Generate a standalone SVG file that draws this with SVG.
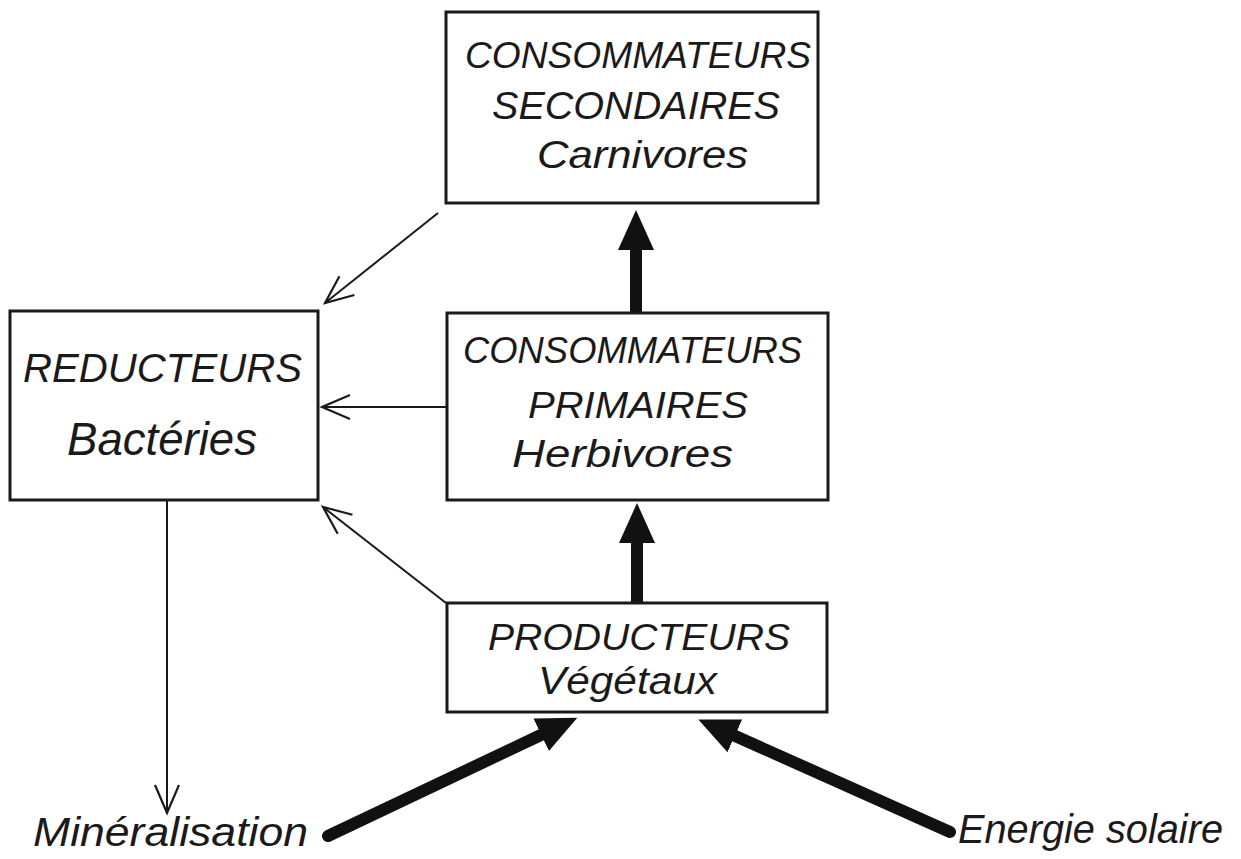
<svg xmlns="http://www.w3.org/2000/svg" width="1241" height="859" viewBox="0 0 1241 859">
<style>
.box{fill:#fff;stroke:#1a1a1a;stroke-width:3}
.t{font-family:"Liberation Sans",Arial,sans-serif;font-style:italic;fill:#1a1a1a}
.thin{stroke:#1a1a1a;stroke-width:2;fill:none}
.thick{stroke:#111;stroke-width:12;fill:none}
</style>
<defs>
<marker id="open" markerUnits="userSpaceOnUse" markerWidth="40" markerHeight="40" viewBox="-34 -20 40 40" refX="0" refY="0" orient="auto">
<path d="M-28,-12 L0,0 L-28,12" fill="none" stroke="#1a1a1a" stroke-width="2.2"/>
</marker>
<marker id="solid" markerUnits="userSpaceOnUse" markerWidth="50" markerHeight="50" viewBox="-2 -25 50 50" refX="0" refY="0" orient="auto">
<path d="M-2,-18 L38,0 L-2,18 Z" fill="#111"/>
</marker>
</defs>
<rect width="1241" height="859" fill="#fff"/>
<g id="connectors">
<line class="thin" x1="438" y1="213" x2="325" y2="303" marker-end="url(#open)"/>
<line class="thin" x1="446" y1="407" x2="322" y2="407" marker-end="url(#open)"/>
<line class="thin" x1="446" y1="603" x2="323" y2="507" marker-end="url(#open)"/>
<line class="thin" x1="167" y1="500" x2="167" y2="813" marker-end="url(#open)"/>
<line class="thick" stroke-width="11" x1="636" y1="312" x2="636" y2="248" marker-end="url(#solid)"/>
<line class="thick" stroke-width="11" x1="637" y1="603" x2="637" y2="541" marker-end="url(#solid)"/>
<line class="thick" stroke-linecap="round" x1="328" y1="836" x2="543" y2="734" marker-end="url(#solid)"/>
<line class="thick" stroke-linecap="round" x1="950" y1="832" x2="733" y2="735" marker-end="url(#solid)"/>
</g>
<g id="secondaires">
<rect class="box" x="446" y="12" width="372" height="191"/>
<text class="t" x="465" y="68" font-size="36" textLength="346" lengthAdjust="spacingAndGlyphs">CONSOMMATEURS</text>
<text class="t" x="492" y="119" font-size="38" textLength="288" lengthAdjust="spacingAndGlyphs">SECONDAIRES</text>
<text class="t" x="537" y="168" font-size="38" textLength="211" lengthAdjust="spacingAndGlyphs">Carnivores</text>
</g>
<g id="primaires">
<rect class="box" x="447" y="313" width="381" height="187"/>
<text class="t" x="463" y="363" font-size="36" textLength="339" lengthAdjust="spacingAndGlyphs">CONSOMMATEURS</text>
<text class="t" x="528" y="418" font-size="36" textLength="220" lengthAdjust="spacingAndGlyphs">PRIMAIRES</text>
<text class="t" x="512" y="467" font-size="38" textLength="221" lengthAdjust="spacingAndGlyphs">Herbivores</text>
</g>
<g id="reducteurs">
<rect class="box" x="10" y="311" width="308" height="189"/>
<text class="t" x="23" y="382" font-size="40" textLength="279" lengthAdjust="spacingAndGlyphs">REDUCTEURS</text>
<text class="t" x="67" y="455" font-size="46" textLength="190" lengthAdjust="spacingAndGlyphs">Bactéries</text>
</g>
<g id="producteurs">
<rect class="box" x="447" y="603" width="380" height="109"/>
<text class="t" x="488" y="650" font-size="37" textLength="302" lengthAdjust="spacingAndGlyphs">PRODUCTEURS</text>
<text class="t" x="538" y="694" font-size="38" textLength="179" lengthAdjust="spacingAndGlyphs">Végétaux</text>
</g>
<g id="mineralisation">
<text class="t" x="33" y="846" font-size="40" textLength="275" lengthAdjust="spacingAndGlyphs">Minéralisation</text>
</g>
<g id="energie">
<text class="t" x="958" y="843" font-size="40" textLength="265" lengthAdjust="spacingAndGlyphs">Energie solaire</text>
</g>
</svg>
